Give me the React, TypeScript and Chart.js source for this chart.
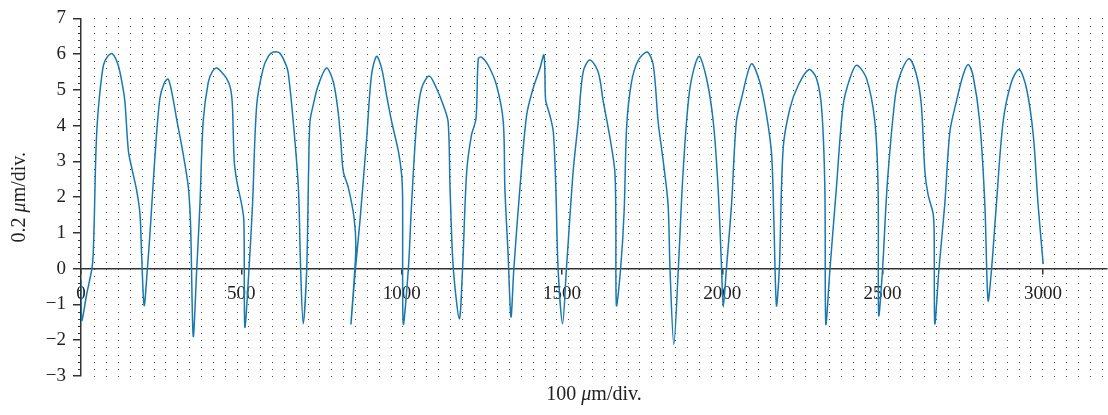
import React, { useEffect, useRef } from 'react';
import { Chart, registerables } from 'chart.js';

Chart.register(...registerables);

// ---- data ----
const profileX = [
  0, 2, 18, 34, 38, 42, 45, 49, 57, 70, 84, 98, 116, 130, 137, 148, 160, 174, 184, 189, 197,
  207, 215, 231, 246, 260, 272, 285, 298, 319, 335, 342, 350,
  361, 371, 381, 397, 410, 423, 440, 454, 466, 472, 478, 487, 501, 508, 511,
  524, 535, 548, 568, 585, 600, 620, 637, 646, 662, 678, 685, 693,
  704, 710, 714, 724, 740, 766, 787, 802, 810, 818, 834, 852, 857, 842,
  856, 870, 891, 906, 922, 938, 953, 969, 990, 1000, 1003, 1005,
  1021, 1031, 1047, 1062, 1086, 1109, 1130, 1145, 1151, 1161, 1180,
  1190, 1203, 1218, 1232, 1239, 1249, 1270, 1296, 1317, 1322, 1332, 1341,
  1350, 1369, 1390, 1410, 1431, 1444, 1448, 1450, 1462, 1473, 1481, 1488, 1502,
  1514, 1535, 1551, 1566, 1587, 1613, 1629, 1650, 1665, 1668, 1670,
  1683, 1694, 1702, 1717, 1738, 1766, 1785, 1800, 1816, 1831, 1837, 1849,
  1863, 1878, 1899, 1927, 1951, 1972, 1987, 1998, 2003,
  2013, 2029, 2044, 2060, 2091, 2117, 2138, 2154, 2161, 2169,
  2178, 2190, 2211, 2237, 2271, 2294, 2310, 2320, 2323,
  2336, 2356, 2377, 2398, 2419, 2450, 2476, 2486, 2488,
  2500, 2515, 2540, 2556, 2583, 2606, 2621, 2632, 2642, 2658, 2661, 2663,
  2676, 2694, 2710, 2730, 2751, 2767, 2782, 2803, 2819, 2829,
  2840, 2855, 2876, 2902, 2926, 2949, 2970, 2985, 3001,
];
const profileY = [
  -0.3, -1.45, -0.7, 0, 0.4, 1.6, 2.8, 3.8, 4.76, 5.69, 5.95, 6.01, 5.69, 5.1, 4.67, 3.28, 2.75, 2.17, 1.52, 0.41, -1.03,
  0, 0.96, 3.19, 4.76, 5.2, 5.3, 4.85, 4.2, 3.19, 2.26, 1.15, -1.89,
  0, 1.8, 4.11, 5.22, 5.52, 5.61, 5.48, 5.32, 5.05, 4.6, 3.0, 2.4, 1.8, 1.33, -1.63,
  0, 1.8, 4.57, 5.59, 5.95, 6.06, 6.03, 5.75, 5.5, 4.11, 2.26, 0, -1.54,
  0, 2.8, 4.11, 4.57, 5.13, 5.61, 5.22, 4.39, 3.6, 2.72, 2.26, 1.4, 0.5, -1.54,
  0, 1.33, 3.65, 5.41, 5.94, 5.59, 4.85, 4.11, 3.28, 2.63, 2.0, -1.54,
  0, 1.8, 4.11, 5.04, 5.39, 5.04, 4.57, 4.11, 2.26, 0.04, -1.4,
  0, 2.72, 3.74, 4.2, 5.87, 5.92, 5.69, 5.13, 4.11, 2.26, 0.41, -1.35,
  0, 2.26, 4.3, 5.04, 5.59, 5.98, 4.9, 4.67, 4.3, 3.83, 2.26, 0, -1.54,
  0, 2.72, 4.11, 5.5, 5.84, 5.5, 4.67, 3.65, 2.72, 1.33, -1.03,
  0, 1.6, 4.0, 5.22, 5.83, 6.06, 5.69, 4.11, 3.0, 1.8, 0, -2.12,
  0, 2.72, 5.04, 5.94, 5.32, 4.11, 2.26, 0, -1.07,
  0, 1.8, 4.11, 4.76, 5.73, 5.22, 4.3, 3.19, 1.33, -1.03,
  0, 3.37, 4.48, 5.13, 5.57, 5.32, 4.48, 2.26, -1.54,
  0, 2.26, 4.57, 5.32, 5.69, 5.32, 4.11, 2.26, -1.3,
  0, 2.4, 4.85, 5.45, 5.87, 5.41, 4.57, 2.72, 2.07, 1.52, 0.87, -1.54,
  0, 1.8, 3.83, 4.67, 5.41, 5.71, 5.41, 4.11, 1.8, -0.89,
  0, 1.8, 4.11, 5.22, 5.57, 5.04, 3.74, 1.8, 0.13,
];
const xTickValues = [0, 500, 1000, 1500, 2000, 2500, 3000];
const yTickStep = 1;
const yMinorStep = 0.2;
const xRange = [0, 3200];
const yRange = [-3, 7];
const xTitleParts = [['100 ', false], ['μ', true], ['m/div.', false]];
const yTitleParts = [['0.2 ', false], ['μ', true], ['m/div.', false]];

// background dotted paper (data units)
const paperStartX = 41.5;
const paperStepX = 36.96;
const paperStepY = 0.2;

const FONT = '"Liberation Serif", "DejaVu Serif", serif';
const LINE_COLOR = '#1878b0';
const AXIS_COLOR = '#333333';

function drawParts(ctx: CanvasRenderingContext2D, parts: any[], size: number) {
  let total = 0;
  for (const [t, it] of parts) {
    ctx.font = `${it ? 'italic ' : ''}${size}px ${FONT}`;
    total += ctx.measureText(t).width;
  }
  let x = -total / 2;
  for (const [t, it] of parts) {
    ctx.font = `${it ? 'italic ' : ''}${size}px ${FONT}`;
    ctx.fillText(t, x, 0);
    x += ctx.measureText(t).width;
  }
}

const paperPlugin = {
  id: 'paper',
  beforeDatasetsDraw(chart: any) {
    const { ctx, scales } = chart;
    const xs = scales.x;
    const ys = scales.y;
    ctx.save();
    ctx.fillStyle = 'rgba(40,40,40,0.85)';
    for (let gx = paperStartX; gx <= xRange[1]; gx += paperStepX) {
      const px = Math.round(xs.getPixelForValue(gx));
      const n = Math.round((yRange[1] - yRange[0]) / paperStepY);
      for (let j = 0; j <= n; j++) {
        const py = Math.round(ys.getPixelForValue(yRange[0] + j * paperStepY));
        ctx.fillRect(px, py, 1, 1);
      }
    }
    ctx.restore();
  },
};

const extrasPlugin = {
  id: 'extras',
  afterDraw(chart: any) {
    const { ctx, scales, chartArea } = chart;
    const ys = scales.y;
    ctx.save();
    // minor ticks on the y axis
    ctx.strokeStyle = AXIS_COLOR;
    ctx.lineWidth = 1;
    const n = Math.round((yRange[1] - yRange[0]) / yMinorStep);
    for (let j = 0; j <= n; j++) {
      const v = yRange[0] + j * yMinorStep;
      if (Math.abs(v - Math.round(v)) < 1e-6) continue;
      const py = Math.round(ys.getPixelForValue(v)) + 0.5;
      ctx.beginPath();
      ctx.moveTo(chartArea.left - 3, py);
      ctx.lineTo(chartArea.left, py);
      ctx.stroke();
    }
    // axis titles
    ctx.fillStyle = '#222';
    ctx.textBaseline = 'middle';
    ctx.textAlign = 'left';
    ctx.save();
    ctx.translate((chartArea.left + chartArea.right) / 2, 395);
    drawParts(ctx, xTitleParts, 20);
    ctx.restore();
    ctx.save();
    ctx.translate(20, (chartArea.top + chartArea.bottom) / 2);
    ctx.rotate(-Math.PI / 2);
    drawParts(ctx, yTitleParts, 20);
    ctx.restore();
    ctx.restore();
  },
};

export default function App() {
  const ref = useRef<HTMLCanvasElement>(null);
  useEffect(() => {
    if (!ref.current) return;
    const points = profileX.map((x, i) => ({ x, y: profileY[i] }));
    const chart = new Chart(ref.current, {
      type: 'line',
      data: {
        datasets: [
          {
            data: points,
            borderColor: LINE_COLOR,
            borderWidth: 1.5,
            pointRadius: 0,
            tension: 0.3,
            fill: false,
          },
        ],
      },
      options: {
        animation: false,
        responsive: false,
        events: [],
        layout: { padding: { left: 0, top: 16, right: 1, bottom: 39 } },
        plugins: { legend: { display: false }, tooltip: { enabled: false } },
        scales: {
          x: {
            type: 'linear',
            min: xRange[0],
            max: xRange[1],
            position: { y: 0 } as any,
            afterBuildTicks: (scale: any) => {
              scale.ticks = xTickValues.map((v) => ({ value: v }));
            },
            grid: { drawOnChartArea: false, drawTicks: true, tickLength: 5, color: AXIS_COLOR, lineWidth: 1.5 },
            border: { display: true, color: AXIS_COLOR, width: 1.5 },
            ticks: {
              autoSkip: false,
              maxRotation: 0,
              padding: 9,
              color: '#222',
              font: { family: FONT, size: 19 },
              callback: (v: any) => String(v),
            },
          },
          y: {
            type: 'linear',
            min: yRange[0],
            max: yRange[1],
            position: 'left',
            afterFit: (scale: any) => {
              scale.width = 81;
            },
            grid: { drawOnChartArea: false, drawTicks: true, tickLength: 8, color: AXIS_COLOR, lineWidth: 1.5 },
            border: { display: true, color: AXIS_COLOR, width: 1.5 },
            ticks: {
              stepSize: yTickStep,
              padding: 7,
              color: '#222',
              font: { family: FONT, size: 19 },
              callback: (v: any) => (v < 0 ? '\u2212' + Math.abs(v) : String(v)),
            },
          },
        },
      },
      plugins: [paperPlugin, extrasPlugin],
    });
    return () => chart.destroy();
  }, []);
  return (
    <div style={{ position: 'absolute', left: 0, top: 0, width: 1108, height: 415, background: '#fff' }}>
      <canvas ref={ref} width={1108} height={415} style={{ display: 'block' }} />
    </div>
  );
}
